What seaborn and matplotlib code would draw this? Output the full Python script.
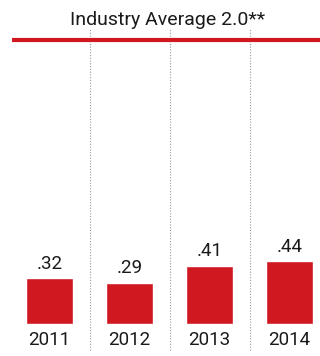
import matplotlib
matplotlib.use("Agg")
import matplotlib.pyplot as plt
import seaborn as sns
import pandas as pd

years = ["2011", "2012", "2013", "2014"]
values = [0.32, 0.29, 0.41, 0.44]
value_labels = [".32", ".29", ".41", ".44"]
industry_average = 2.0
title_text = "Industry Average 2.0**"

RED = "#d01820"

sns.set_theme(style="white")
plt.rcParams["font.family"] = ["Roboto", "DejaVu Sans"]

df = pd.DataFrame({"year": years, "value": values})

fig = plt.figure(figsize=(3.2, 3.56), dpi=100)
ax = fig.add_axes([0, 0, 1, 1])

sns.barplot(data=df, x="year", y="value", color=RED, saturation=1,
            width=0.5875, ax=ax)

# scales: 80 px per category, ~142 px per unit
ax.set_xlim(-0.619, 3.381)
ax.set_ylim(-0.225, 2.278)

# dotted column dividers
for xd in [0.5, 1.5, 2.5]:
    ax.plot([xd, xd], [-0.183, 2.08], color="#9a9a9a", lw=0.8,
            linestyle=(0, (1, 1.5)), zorder=1)

# industry average line
ax.plot([-0.47, 3.381], [industry_average, industry_average],
        color=RED, lw=3, solid_capstyle="butt", zorder=3)

ax.text(1.48, 2.14, title_text, ha="center", va="center",
        fontsize=14, color="#1a1a1a")

for i, (v, lab) in enumerate(zip(values, value_labels)):
    ax.text(i, v + 0.04, lab, ha="center", va="bottom", fontsize=13.5,
            color="#1a1a1a")
    ax.text(i, -0.112, years[i], ha="center", va="center", fontsize=13.5,
            color="#1a1a1a")

ax.set_axis_off()
fig.savefig("out.png", dpi=100)
